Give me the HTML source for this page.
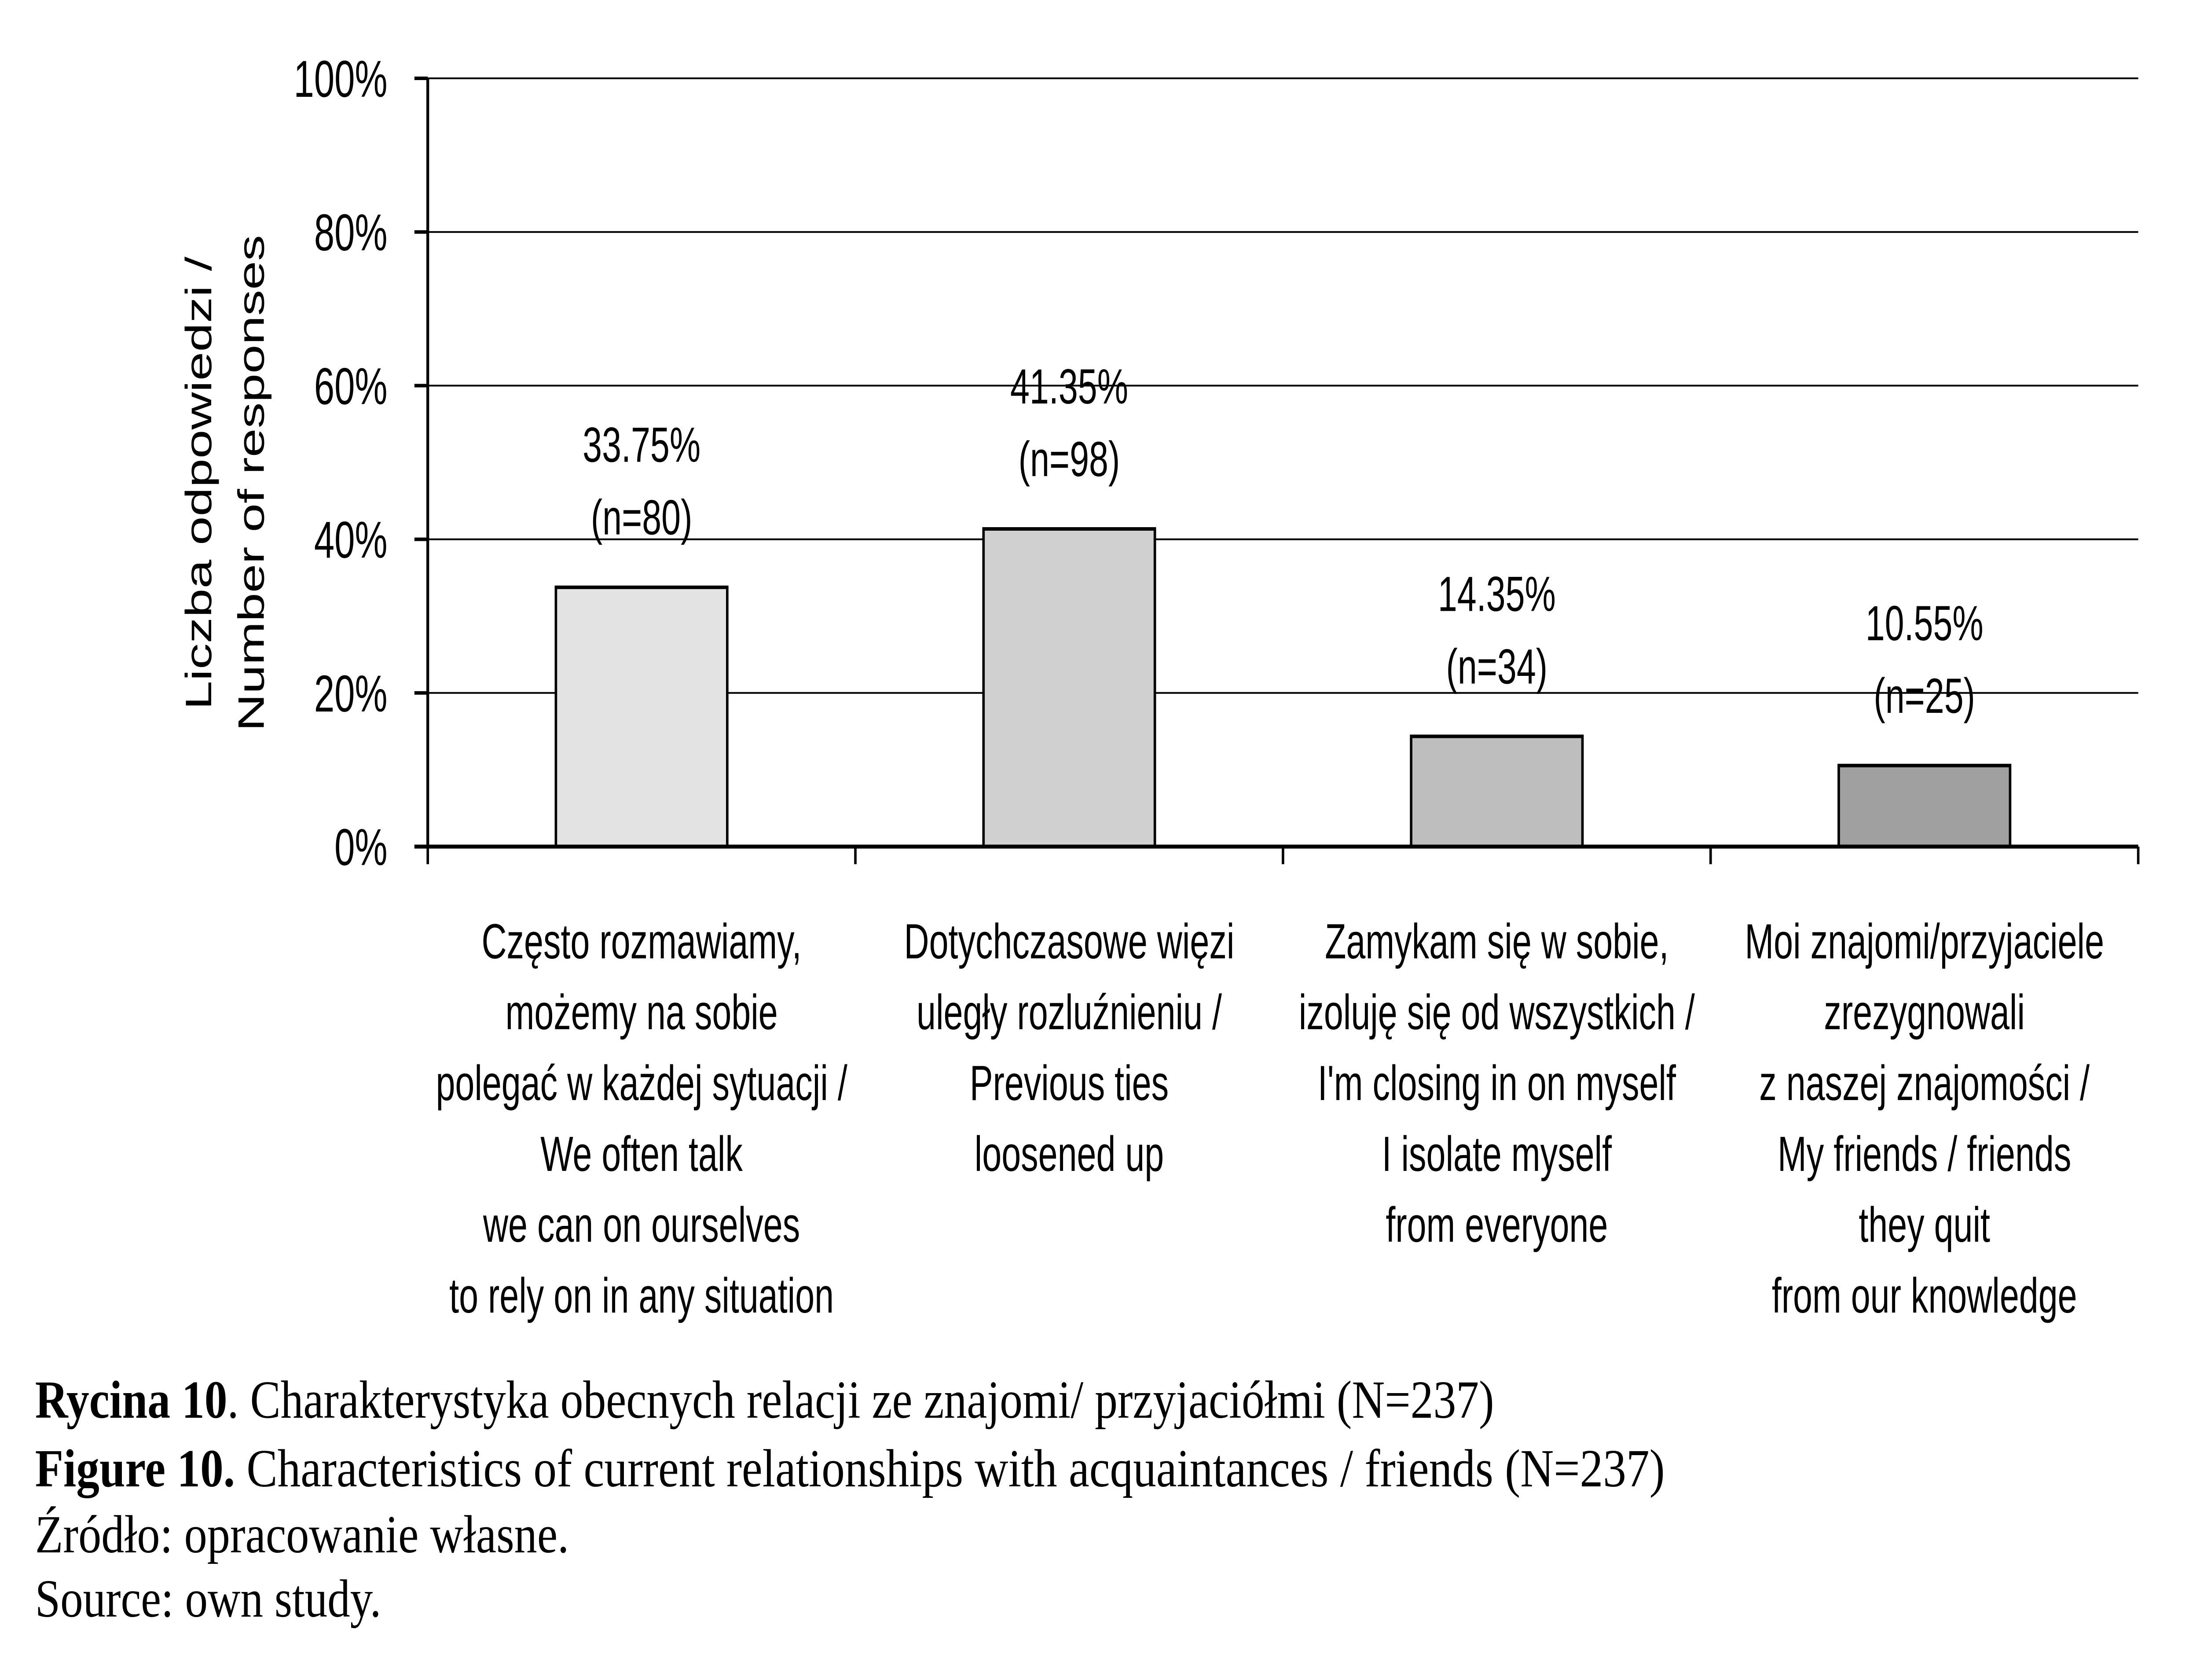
<!DOCTYPE html>
<html><head><meta charset="utf-8"><style>html,body{margin:0;padding:0;background:#fff;overflow:hidden;width:100%;height:100%}svg{display:block;width:100vw;height:100vh}</style></head>
<body>
<svg id="chart" viewBox="0 0 7087 3818" preserveAspectRatio="none" xmlns="http://www.w3.org/2000/svg" font-family="'Liberation Sans', sans-serif">
<g id="grid"></g>
<g id="bars"></g>
<g id="axes"></g>
<g font-size="118" text-anchor="middle" fill="#000">
<text transform="translate(680,1098) rotate(-90)">Liczba odpowiedzi /</text>
<text transform="translate(850,1098) rotate(-90)">Number of responses</text>
</g>
<g font-family="'Liberation Serif', serif" font-size="122" fill="#000">
<text x="113" y="3222" textLength="4700" lengthAdjust="spacingAndGlyphs"><tspan font-weight="bold">Rycina 10</tspan>. Charakterystyka obecnych relacji ze znajomi/ przyjaciółmi (N=237)</text>
<text x="113" y="3378" textLength="5250" lengthAdjust="spacingAndGlyphs"><tspan font-weight="bold">Figure 10.</tspan> Characteristics of current relationships with acquaintances / friends (N=237)</text>
<text x="113" y="3528" textLength="1720" lengthAdjust="spacingAndGlyphs">Źródło: opracowanie własne.</text>
<text x="113" y="3674" textLength="1115" lengthAdjust="spacingAndGlyphs">Source: own study.</text>
</g>
</svg>
<script>
const categories = [
 ["Często rozmawiamy,","możemy na sobie","polegać w każdej sytuacji /","We often talk","we can on ourselves","to rely on in any situation"],
 ["Dotychczasowe więzi","uległy rozluźnieniu /","Previous ties","loosened up"],
 ["Zamykam się w sobie,","izoluję się od wszystkich /","I'm closing in on myself","I isolate myself","from everyone"],
 ["Moi znajomi/przyjaciele","zrezygnowali","z naszej znajomości /","My friends / friends","they quit","from our knowledge"]
];
const values = [33.75, 41.35, 14.35, 10.55];
const counts = [80, 98, 34, 25];
const barColors = ["#e3e3e3", "#d0d0d0", "#bebebe", "#a0a0a0"];
const yTicks = [0, 20, 40, 60, 80, 100];

const NS = "http://www.w3.org/2000/svg";
const X0 = 1378, X1 = 6888, Y0 = 1924, Y1 = 178;
const catW = (X1 - X0) / categories.length;
const yScale = v => Y0 - (v / 100) * (Y0 - Y1);
const xCenter = i => X0 + catW * (i + 0.5);
function mk(tag, attrs, parent, txt) {
  const e = document.createElementNS(NS, tag);
  for (const k in attrs) e.setAttribute(k, attrs[k]);
  if (txt !== undefined) e.textContent = txt;
  parent.appendChild(e);
  return e;
}
const grid = document.getElementById('grid');
const bars = document.getElementById('bars');
const axes = document.getElementById('axes');

yTicks.forEach(t => {
  const y = yScale(t);
  if (t > 0) {
    const g = mk('line', {x1: X0, x2: X1, y1: y, y2: y, stroke: '#000', 'stroke-width': 4}, grid);
    
    
  }
  const tk = mk('line', {x1: 1335, x2: X0, y1: y, y2: y, stroke: '#000', 'stroke-width': 8}, axes);
  
  
  const lb = mk('text', {x: 1248, y: y + 42, 'text-anchor': 'end', 'font-size': 118}, axes, t + '%');
  
  
});

const bw = 552;
values.forEach((v, i) => {
  const cx = xCenter(i), y = yScale(v);
  const r = mk('rect', {x: cx - bw / 2, y: y, width: bw, height: Y0 - y, fill: barColors[i], stroke: '#000', 'stroke-width': 8}, bars);
  
  
  const t1 = mk('text', {x: cx, y: y - 285, 'text-anchor': 'middle', 'font-size': 112}, bars, v.toFixed(2) + '%');
  
  
  const t2 = mk('text', {x: cx, y: y - 120, 'text-anchor': 'middle', 'font-size': 112}, bars, '(n=' + counts[i] + ')');
  
  
  categories[i].forEach((line, j) => {
    const c = mk('text', {x: cx, y: 2178 + j * 161, 'text-anchor': 'middle', 'font-size': 112}, axes, line);
    
    
  });
});

for (let i = 0; i <= categories.length; i++) {
  const x = X0 + catW * i;
  const tk = mk('line', {x1: x, x2: x, y1: Y0, y2: 1964, stroke: '#000', 'stroke-width': 8}, axes);
  
  
}
const ya = mk('line', {x1: X0, x2: X0, y1: Y1, y2: Y0, stroke: '#000', 'stroke-width': 9}, axes);


const xa = mk('line', {x1: 1335, x2: X1, y1: Y0, y2: Y0, stroke: '#000', 'stroke-width': 9}, axes);


</script>
</body></html>
